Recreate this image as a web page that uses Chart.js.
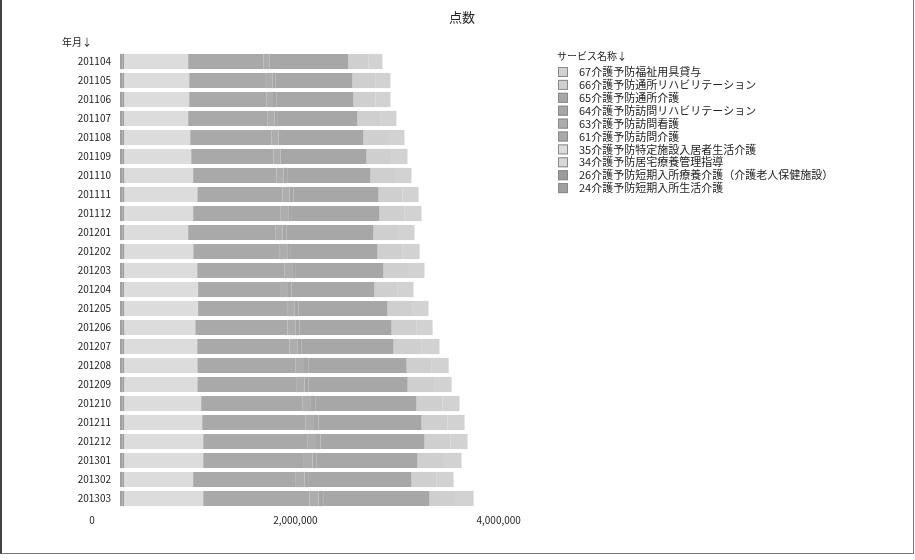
<!DOCTYPE html>
<html>
<head>
<meta charset="utf-8">
<script src="https://cdn.jsdelivr.net/npm/chart.js@4"></script>
<style>
  html, body { margin: 0; padding: 0; background: #fff; }
  #wrap { position: relative; width: 915px; height: 560px; }
  #frame { position: absolute; left: 0; top: 0; width: 911px; height: 553px; border-left: 2px solid #444; border-right: 1px solid #777; border-bottom: 1px solid #777; pointer-events: none; }
</style>
</head>
<body>
<div id="wrap">
<canvas id="c" width="915" height="560"></canvas>
<div id="frame"></div>
</div>
<script>
const chartTitle = '点数';
const yAxisTitle = '年月↓';
const legendTitle = 'サービス名称↓';

const months = ['201104','201105','201106','201107','201108','201109','201110','201111','201112','201201','201202','201203','201204','201205','201206','201207','201208','201209','201210','201211','201212','201301','201302','201303'];

const seriesNames = ['24介護予防短期入所生活介護','26介護予防短期入所療養介護（介護老人保健施設）','34介護予防居宅療養管理指導','35介護予防特定施設入居者生活介護','61介護予防訪問介護','63介護予防訪問看護','64介護予防訪問リハビリテーション','65介護予防通所介護','66介護予防通所リハビリテーション','67介護予防福祉用具貸与'];

const s24 = [25000,24000,26000,25000,24000,25000,26000,25000,24000,25000,26000,25000,24000,25000,26000,25000,25000,24000,26000,25000,25000,26000,24000,25000];
const s26 = [15000,16000,15000,14000,16000,15000,15000,16000,15000,14000,15000,16000,15000,15000,14000,16000,15000,16000,15000,15000,16000,15000,15000,16000];
const s34 = [8000,8000,7000,9000,8000,8000,7000,8000,9000,9000,8000,7000,9000,8000,9000,7000,9000,9000,7000,8000,7000,7000,9000,7000];
const s35 = [622000,632000,632000,622000,642000,652000,671000,711000,671000,622000,671000,711000,720000,720000,691000,711000,711000,711000,750000,760000,770000,770000,671000,770000];
const s61 = [740000,755000,760000,783000,801000,810000,820000,838000,862000,857000,852000,861000,815000,876000,908000,908000,968000,972000,995000,1014000,1023000,991000,1010000,1046000];
const s63 = [63000,64000,65000,67000,68000,69000,70000,71000,73000,73000,73000,73000,69000,75000,77000,77000,82000,83000,85000,86000,87000,84000,86000,89000];
const s64 = [32000,32000,32000,33000,34000,34000,35000,36000,37000,36000,36000,37000,35000,37000,39000,39000,41000,41000,42000,43000,44000,42000,43000,45000];
const s65 = [741000,755000,759000,782000,801000,811000,819000,838000,861000,857000,852000,861000,815000,875000,907000,907000,968000,973000,996000,1015000,1023000,991000,1009000,1046000];
const s66 = [200000,224000,218000,230000,242000,242000,242000,236000,248000,242000,248000,242000,231000,242000,242000,272000,248000,260000,254000,254000,254000,260000,248000,260000];
const s67 = [135000,150000,146000,154000,162000,162000,162000,158000,166000,162000,166000,162000,154000,161000,162000,181000,166000,173000,170000,169000,170000,174000,166000,174000];

const xTicks = [0, 2000000, 4000000];

const seriesValues = [s24, s26, s34, s35, s61, s63, s64, s65, s66, s67];
const seriesColors = ['#a0a0a0','#9c9c9c','#d8d8d8','#dcdcdc','#a9a9a9','#adadad','#a6a6a6','#a7a7a7','#cfcfcf','#d2d2d2'];

const FONT = '"Noto Sans CJK JP", "DejaVu Sans", sans-serif';

const datasets = seriesNames.map((name, i) => ({
  label: name,
  data: seriesValues[i],
  backgroundColor: seriesColors[i],
  borderWidth: 0,
  barPercentage: 0.8,
  categoryPercentage: 1.0
}));

// Draws the chart title, the y-axis caption and the legend (legend listed in reverse stack order)
const annotations = {
  id: 'annotations',
  afterDraw(chart) {
    const ctx = chart.ctx;
    ctx.save();
    ctx.fillStyle = '#222';
    ctx.textBaseline = 'middle';
    ctx.font = '13px ' + FONT;
    ctx.textAlign = 'center';
    ctx.fillText(chartTitle, 462, 17);
    ctx.textAlign = 'left';
    ctx.font = '10px ' + FONT;
    ctx.fillText(yAxisTitle, 62, 42);
    ctx.fillText(legendTitle, 557, 56);
    ctx.font = '11px ' + FONT;
    const ds = chart.data.datasets.slice().reverse();
    ds.forEach((d, i) => {
      const y = 72 + i * 12.9;
      ctx.fillStyle = d.backgroundColor;
      ctx.fillRect(558, y - 5, 10, 10);
      ctx.strokeStyle = '#8a8a8a';
      ctx.lineWidth = 1;
      ctx.strokeRect(558.5, y - 4.5, 9, 9);
      ctx.fillStyle = '#222';
      ctx.fillText(d.label, 579, y);
    });
    ctx.restore();
  }
};

new Chart(document.getElementById('c'), {
  type: 'bar',
  data: { labels: months, datasets: datasets },
  plugins: [annotations],
  options: {
    indexAxis: 'y',
    responsive: false,
    animation: false,
    layout: { padding: { left: 62, top: 52, right: 368, bottom: 28 } },
    plugins: {
      tooltip: { enabled: false },
      title: { display: false },
      legend: { display: false }
    },
    scales: {
      x: {
        stacked: true, min: 0, max: 4200000,
        grid: { display: false, drawTicks: false },
        border: { display: false },
        afterBuildTicks: (scale) => { scale.ticks = xTicks.map(v => ({ value: v })); },
        ticks: {
          padding: 6, labelOffset: -28, maxRotation: 0, color: '#222',
          font: { family: FONT, size: 10 },
          callback: (v) => Number(v).toLocaleString('en-US')
        }
      },
      y: {
        stacked: true,
        grid: { display: false, drawTicks: false },
        border: { display: false },
        afterFit: (scale) => { scale.width = 58; },
        ticks: { padding: 9, color: '#222', font: { family: FONT, size: 10 } }
      }
    }
  }
});
</script>
</body>
</html>
